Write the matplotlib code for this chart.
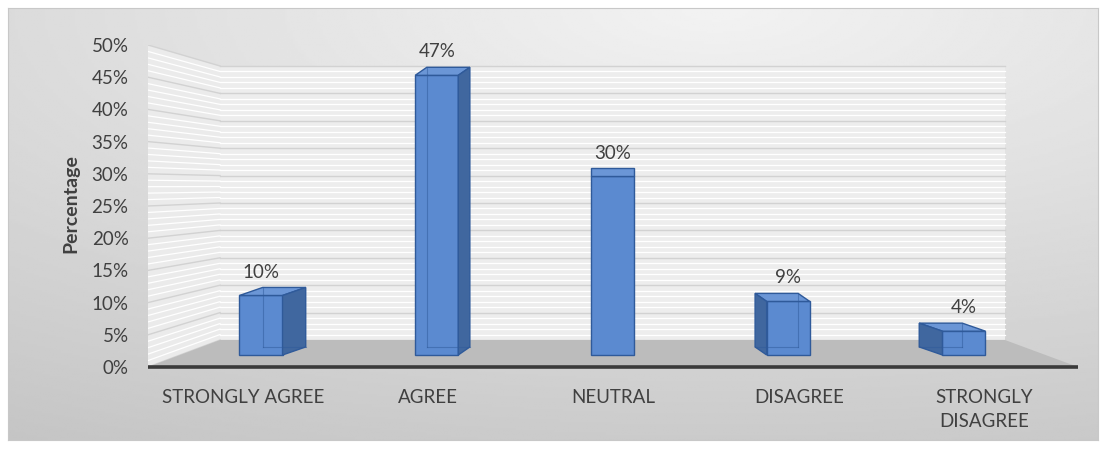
import numpy as np
import matplotlib
matplotlib.use("Agg")
import matplotlib.pyplot as plt
from matplotlib.patches import Polygon

# --------------------------------------------------
# Data
# --------------------------------------------------
categories = ["STRONGLY AGREE", "AGREE", "NEUTRAL", "DISAGREE", "STRONGLY\nDISAGREE"]
values = [10, 47, 30, 9, 4]
value_labels = ["10%", "47%", "30%", "9%", "4%"]
y_ticks = [0, 5, 10, 15, 20, 25, 30, 35, 40, 45, 50]
y_tick_labels = [f"{t}%" for t in y_ticks]

plt.rcParams["font.family"] = ["Lato", "DejaVu Sans"]
TEXT = "#404040"

W, H = 1107, 451
fig = plt.figure(figsize=(W / 100, H / 100), dpi=100)
fig.patch.set_facecolor("white")


def px_box(x0, y0, x1, y1):
    # pixel box (top-left origin) -> figure fraction
    return [x0 / W, 1 - y1 / H, (x1 - x0) / W, (y1 - y0) / H]


# --------------------------------------------------
# background panel with gradient
# --------------------------------------------------
bg = fig.add_axes(px_box(8, 8, 1098, 440), zorder=0)
gy, gx = np.mgrid[0:1:200j, 0:1:400j]
shade = 0.95 - 0.14 * np.sqrt((gx - 0.65) ** 2 + (gy * 1.1) ** 2)
bg.imshow(shade, cmap="gray", vmin=0, vmax=1, aspect="auto",
          extent=[0, 1, 0, 1], origin="upper")
bg.set_xticks([])
bg.set_yticks([])
for s in bg.spines.values():
    s.set_color("#c8c8c8")
    s.set_linewidth(0.8)

# --------------------------------------------------
# front axes: walls, floor, ticks
# --------------------------------------------------
ax = fig.add_axes(px_box(148, 45, 1078, 367), zorder=1)
ax.patch.set_alpha(0)
x_left, x_right = -0.513, 4.507
ax.set_xlim(x_left, x_right)
ax.set_ylim(0, 50)

back_x0, back_x1 = -0.124, 4.113


def back_y(v):
    return 4.19 + 0.851 * v


# back wall
ax.add_patch(Polygon([(back_x0, back_y(0)), (back_x1, back_y(0)),
                      (back_x1, back_y(50)), (back_x0, back_y(50))],
                     closed=True, facecolor="#ededed", edgecolor="none", zorder=1))
# left wall
ax.add_patch(Polygon([(x_left, 0), (back_x0, back_y(0)),
                      (back_x0, back_y(50)), (x_left, 50)],
                     closed=True, facecolor="#ebebeb", edgecolor="none", zorder=1))

for v in np.arange(0, 50.5, 1):
    major = v % 5 == 0
    col = "#d2d2d2" if major else "white"
    lw = 1.0 if major else 0.9
    ax.plot([back_x0, back_x1], [back_y(v), back_y(v)], color=col, lw=lw, zorder=2)
    ax.plot([x_left, back_x0], [v, back_y(v)], color=col, lw=lw, zorder=2)

# floor
ax.add_patch(Polygon([(x_left, 0), (x_right, 0), (back_x1, back_y(0)), (back_x0, back_y(0))],
                     closed=True, facecolor="#bcbcbc", edgecolor="none", zorder=3))
ax.plot([x_left, x_right], [0, 0], color="#3a3a3a", lw=2.6, zorder=4,
        solid_capstyle="butt", clip_on=False)

ax.set_yticks(y_ticks)
ax.set_yticklabels(y_tick_labels)
ax.set_xticks(range(len(categories)))
ax.set_xticklabels(categories, linespacing=1.45)
ax.tick_params(axis="y", length=0, pad=14, labelsize=13.5, labelcolor=TEXT)
ax.tick_params(axis="x", length=0, pad=16, labelsize=13.5, labelcolor=TEXT)
for s in ax.spines.values():
    s.set_visible(False)

fig.text(71 / W, 1 - 204 / H, "Percentage", rotation=90, ha="center", va="center",
         fontsize=14, fontweight="bold", color=TEXT)

# --------------------------------------------------
# bar axes (middle depth of the floor)
# --------------------------------------------------
bx = fig.add_axes(px_box(148, 45, 1078, 367), zorder=2)
bx.patch.set_alpha(0)
bx.set_xlim(-0.643, 4.649)
bx.set_ylim(-2.02, -2.02 + 322 / 5.95)
bx.axis("off")

FRONT = "#5b8ad0"
SIDE = "#40679f"
TOP = "#6b96d6"
EDGE = "#2f5a9a"
bar_w = 0.245
vanish = 2.0
dy = 1.35

xs = np.arange(len(values))
bx.bar(xs, values, width=bar_w, color=FRONT, edgecolor=EDGE, linewidth=1.0, zorder=5)

for x, v, lab in zip(xs, values, value_labels):
    dx = -0.066 * (x - vanish)
    l, r = x - bar_w / 2, x + bar_w / 2
    # top face
    bx.add_patch(Polygon([(l, v), (r, v), (r + dx, v + dy), (l + dx, v + dy)],
                         closed=True, facecolor=TOP, edgecolor=EDGE, lw=1.0, zorder=6))
    # side face
    if abs(dx) > 0.01:
        sx = r if dx > 0 else l
        bx.add_patch(Polygon([(sx, 0), (sx, v), (sx + dx, v + dy), (sx + dx, dy)],
                             closed=True, facecolor=SIDE, edgecolor=EDGE, lw=1.0, zorder=6))
        # hidden back edges seen through the bar
        ix = (l + dx) if dx > 0 else (r + dx)
        bx.plot([ix, ix], [dy, v + dy], color=EDGE, lw=0.8, alpha=0.5, zorder=7)
        bx.plot([l + dx, r + dx], [dy, dy], color=EDGE, lw=0.8, alpha=0.5, zorder=7)
    bx.annotate(lab, (x, v + dy), xytext=(0, 5), textcoords="offset points",
                ha="center", va="bottom", fontsize=13.5, color=TEXT, zorder=8)

fig.savefig("out.png", dpi=100)
